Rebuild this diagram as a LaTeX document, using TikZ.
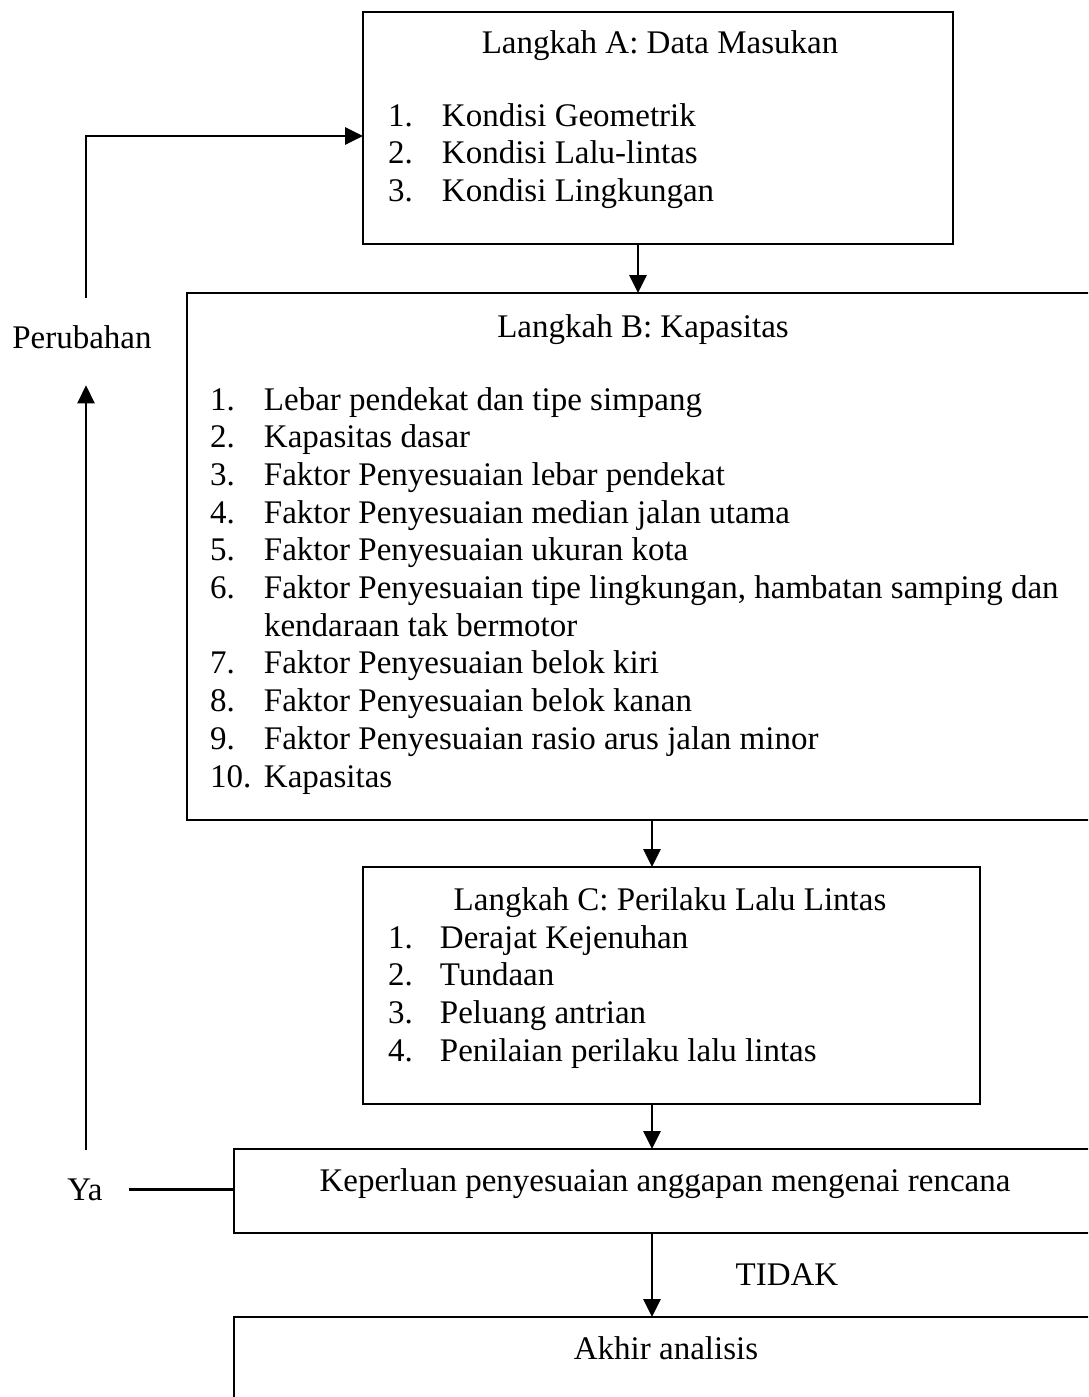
\documentclass[tikz,border=0pt]{standalone}
\usepackage{fontspec}
\setmainfont{Liberation Serif}
\usetikzlibrary{arrows.meta,calc}
\begin{document}
\begin{tikzpicture}[x=1pt,y=-1pt,
  box/.style={draw,line width=2.8pt,inner sep=0pt,outer sep=0pt,anchor=north west},
  txt/.style={inner sep=0pt,outer sep=0pt,font=\fontsize{33}{37.7}\selectfont},
  conn/.style={line width=2.8pt},
  arr/.style={conn,-{Triangle[length=18pt,width=17pt]}}]
\useasboundingbox (0,0) rectangle (1088,1397);
\clip (0,0) rectangle (1088,1397);
% boxes
\node[box,minimum width=590pt,minimum height=232pt] (A) at (363,12) {};
\node[box,minimum width=913pt,minimum height=527pt] (B) at (187,293) {};
\node[box,minimum width=617pt,minimum height=237pt] (C) at (363,867) {};
\node[box,minimum width=866pt,minimum height=84pt] (K) at (234,1149) {};
\node[box,minimum width=866pt,minimum height=140pt] (E) at (234,1317) {};
% texts
\node[txt,anchor=base] (At) at (660,54) {Langkah A: Data Masukan};
\node[txt,anchor=base west] (Al) at (388,126) {\begin{tabular}[t]{@{}p{54pt}@{}l@{}}
1. & Kondisi Geometrik\\
2. & Kondisi Lalu-lintas\\
3. & Kondisi Lingkungan
\end{tabular}};
\node[txt,anchor=base] (Bt) at (643,337) {Langkah B: Kapasitas};
\node[txt,anchor=base west] (Bl) at (210,410) {\begin{tabular}[t]{@{}p{54pt}@{}l@{}}
1. & Lebar pendekat dan tipe simpang\\
2. & Kapasitas dasar\\
3. & Faktor Penyesuaian lebar pendekat\\
4. & Faktor Penyesuaian median jalan utama\\
5. & Faktor Penyesuaian ukuran kota\\
6. & Faktor Penyesuaian tipe lingkungan, hambatan samping dan\\
   & kendaraan tak bermotor\\
7. & Faktor Penyesuaian belok kiri\\
8. & Faktor Penyesuaian belok kanan\\
9. & Faktor Penyesuaian rasio arus jalan minor\\
10. & Kapasitas
\end{tabular}};
\node[txt,anchor=base] (Ct) at (670,910) {Langkah C: Perilaku Lalu Lintas};
\node[txt,anchor=base west] (Cl) at (388,948) {\begin{tabular}[t]{@{}p{52pt}@{}l@{}}
1. & Derajat Kejenuhan\\
2. & Tundaan\\
3. & Peluang antrian\\
4. & Penilaian perilaku lalu lintas
\end{tabular}};
\node[txt,anchor=base] (Kt) at (665,1191) {Keperluan penyesuaian anggapan mengenai rencana};
\node[txt,anchor=base] (Et) at (666,1359) {Akhir analisis};
\node[txt,anchor=base] (tidak) at (787,1285) {TIDAK};
\node[txt,anchor=base] (per) at (82,348) {Perubahan};
\node[txt,anchor=base] (ya) at (85,1200) {Ya};
% connectors
\coordinate (ax) at (638,0);
\coordinate (bx) at (652,0);
\coordinate (fb) at (86,136);
\draw[arr] (A.south -| ax) -- (B.north -| ax);
\draw[arr] (B.south -| bx) -- (C.north -| bx);
\draw[arr] (C.south -| bx) -- (K.north -| bx);
\draw[arr] (K.south -| bx) -- (E.north -| bx);
\draw[arr] (per.north -| fb) ++(0,-27) |- (A.west |- fb);
\draw[arr,shorten >=37pt] (ya.north -| fb) ++(0,-28) -- (per.south -| fb);
\draw[conn,shorten <=26pt] (ya.east) -- (ya.east -| K.west);
\end{tikzpicture}
\end{document}
